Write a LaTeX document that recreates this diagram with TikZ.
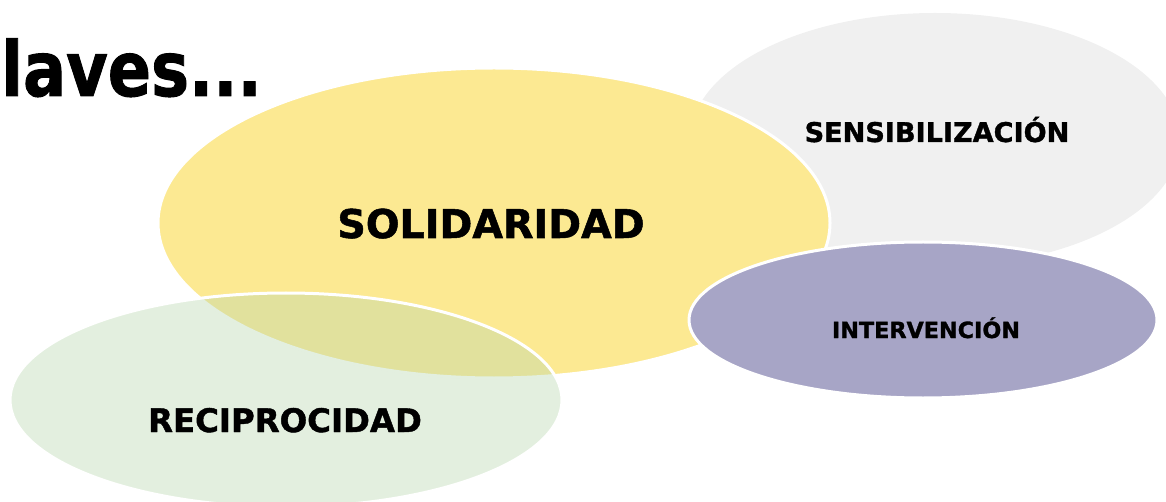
\documentclass[tikz,border=0pt]{standalone}
\usepackage{fontspec}
\setmainfont{DejaVu Sans}[BoldFeatures={FakeBold=1.3}]
\usetikzlibrary{shapes.geometric}
\definecolor{graybg}{RGB}{240,240,240}
\definecolor{yel}{RGB}{252,233,146}
\definecolor{purp}{RGB}{167,165,198}
\definecolor{grn}{RGB}{185,215,175}
\tikzset{
  blob/.style={ellipse, inner sep=0pt, outer sep=0pt, draw=white, line width=3pt},
  lbl/.style={anchor=base, inner sep=0pt, font=\bfseries, text=black}
}
\begin{document}
\begin{tikzpicture}[x=1pt,y=-1pt]
\useasboundingbox (0,0) rectangle (1166,502);
\clip (0,0) rectangle (1166,502);
\node[blob, draw=none, fill=graybg, minimum width=490pt, minimum height=254pt] (sens) at (935,140) {};
\node[blob, fill=yel, minimum width=672pt, minimum height=310pt] (sol) at (494,223) {};
\node[blob, fill=purp, minimum width=468pt, minimum height=156pt] (int) at (923,320) {};
\node[blob, fill=grn, fill opacity=0.4, draw opacity=1, minimum width=552pt, minimum height=214pt] (rec) at (286,400) {};
\node[anchor=base west, inner sep=0pt, font=\bfseries] (title) at (1,96) {\scalebox{0.84}[1]{\fontsize{76}{80}\selectfont laves...}};
\node[lbl, font=\bfseries\fontsize{39.6}{44}\selectfont] (tsol) at (491,238) {SOLIDARIDAD};
\node[lbl, font=\bfseries\fontsize{27.1}{30}\selectfont] (tsens) at (937,142) {SENSIBILIZACIÓN};
\node[lbl, font=\bfseries\fontsize{22.3}{25}\selectfont] (tint) at (926,338) {INTERVENCIÓN};
\node[lbl, font=\bfseries\fontsize{32.4}{36}\selectfont] (trec) at (285,432) {RECIPROCIDAD};
\end{tikzpicture}
\end{document}
